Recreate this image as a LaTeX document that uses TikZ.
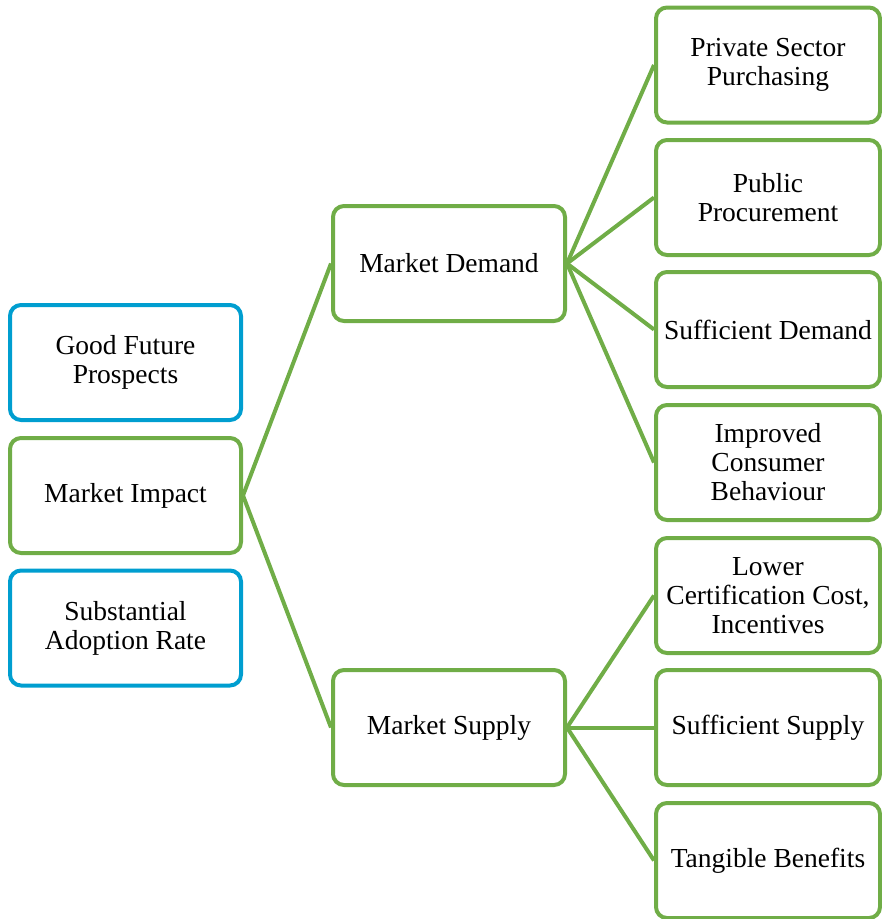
\documentclass[tikz,border=0pt]{standalone}
\usepackage{fontspec}
\setmainfont{Liberation Serif}
\definecolor{leafgreen}{RGB}{112,173,71}
\definecolor{skyblue}{RGB}{0,158,208}
\begin{document}
\begin{tikzpicture}[x=1pt, y=-1pt, font=\fontsize{27.5}{29}\selectfont,
        box/.style={draw=leafgreen, line width=4pt, rounded corners=11pt, align=center, minimum height=115pt, inner sep=2pt},
        bluebox/.style={box, draw=skyblue},
        link/.style={leafgreen, line width=4pt}]
        \useasboundingbox (0,0) rectangle (882,919);
        \node[bluebox, minimum width=231pt] (prospects) at (125.5,362.5) {Good Future\\Prospects};
        \node[box, minimum width=231pt] (impact) at (125.5,495.5) {Market Impact};
        \node[bluebox, minimum width=231pt] (adoption) at (125.5,628) {Substantial\\Adoption Rate};
        \node[box, minimum width=232pt] (demand) at (449,263.5) {Market Demand};
        \node[box, minimum width=232pt] (supply) at (449,727.5) {Market Supply};
        \draw[link] (impact.east) -- (demand.west);
        \draw[link] (impact.east) -- (supply.west);
        \foreach \name/\y/\txt in
            {private/65/{Private Sector\\Purchasing}, public/197.5/{Public\\Procurement},
             sufdemand/329.5/{Sufficient Demand}, consumer/462.5/{Improved\\Consumer\\Behaviour}}{
                \node[box, minimum width=224pt] (\name) at (768,\y) {\txt};
                \draw[link] (demand.east) -- (\name.west);
        }
        \foreach \name/\y/\txt in
            {certification/595.5/{Lower\\Certification Cost,\\Incentives}, sufsupply/727.5/{Sufficient Supply},
             benefits/860.5/{Tangible Benefits}}{
                \node[box, minimum width=224pt] (\name) at (768,\y) {\txt};
                \draw[link] (supply.east) -- (\name.west);
        }
\end{tikzpicture}
\end{document}
